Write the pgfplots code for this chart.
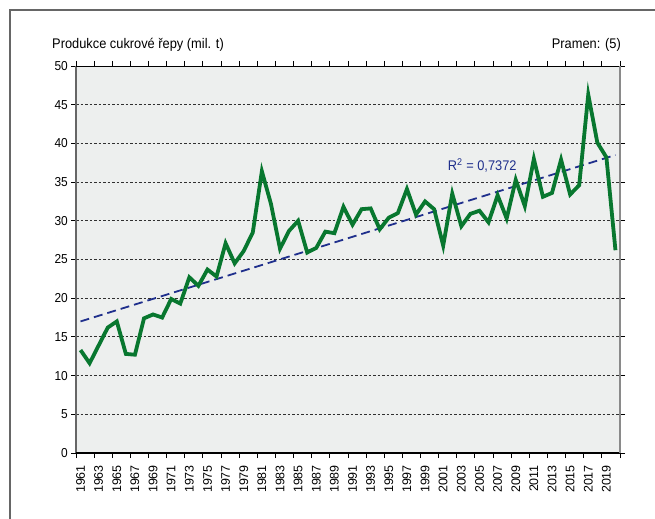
\documentclass[border=0pt]{standalone}
\usepackage{fontspec}
\setmainfont{Liberation Sans}[FakeStretch=0.92]
\newfontfamily\xlabfont{Liberation Sans}
\usepackage{pgfplots}
\pgfplotsset{compat=1.18}
\definecolor{PlotBg}{HTML}{EDEFEE}
\definecolor{Beet}{HTML}{08772F}
\definecolor{Trend}{HTML}{1F2F8C}
\definecolor{FrameC}{HTML}{666666}
\definecolor{RightC}{HTML}{8A8A8A}
\definecolor{GridC}{HTML}{303030}

\pgfplotstableread{
year val
1961 13.3
1962 11.6
1963 13.9
1964 16.2
1965 17.0
1966 12.8
1967 12.7
1968 17.4
1969 17.9
1970 17.5
1971 19.9
1972 19.3
1973 22.7
1974 21.6
1975 23.7
1976 22.8
1977 27.1
1978 24.5
1979 26.1
1980 28.5
1981 36.4
1982 32.2
1983 26.4
1984 28.7
1985 30.0
1986 25.9
1987 26.5
1988 28.6
1989 28.4
1990 31.8
1991 29.5
1992 31.5
1993 31.6
1994 28.9
1995 30.4
1996 31.0
1997 34.1
1998 30.8
1999 32.5
2000 31.5
2001 26.8
2002 33.5
2003 29.3
2004 30.9
2005 31.3
2006 29.8
2007 33.3
2008 30.3
2009 35.3
2010 31.9
2011 38.0
2012 33.1
2013 33.6
2014 37.9
2015 33.4
2016 34.6
2017 46.3
2018 40.1
2019 38.2
2020 26.2
}\beet

\begin{document}
\begin{tikzpicture}
  \begin{axis}[
      at={(76bp,66bp)}, anchor=south west,
      scale only axis,
      width=544bp, height=387bp,
      xmin=1960.5, xmax=2020.5,
      ymin=0, ymax=50,
      axis background/.style={fill=PlotBg},
      axis line style={draw=none},
      xtick={1960.5,1962.5,...,2020.5},
      xticklabels={},
      extra x ticks={1961,1963,...,2019},
      extra x tick style={major tick length=0pt, xmajorgrids=false},
      ytick={0,5,...,50},
      tick align=outside,
      major tick length=5bp,
      tick style={draw=black, line width=0.9bp},
      ymajorgrids=true,
      major grid style={draw=GridC, line width=0.8bp, dash pattern=on 2.5bp off 2bp},
      /pgf/number format/1000 sep={},
      /pgf/number format/assume math mode=true,
      yticklabel style={font=\fontsize{13}{15}\selectfont, inner sep=0pt, xshift=-3bp},
      xticklabel style={font=\xlabfont\fontsize{12.5}{14}\selectfont, yshift=-12bp, rotate=90, anchor=east, inner sep=0pt},
      clip=false]
    \addplot[Trend, line width=1.8bp, dash pattern=on 9bp off 5bp]
      coordinates {(1961,17.0)(2020,38.5)};
    \addplot[Beet, line width=3.8bp, line join=miter] table[x=year, y=val] {\beet};
    \draw[FrameC, line width=1.4bp] (rel axis cs:0,0) -- (rel axis cs:0,1);
    \draw[black, line width=1.4bp] (rel axis cs:0,0) -- (rel axis cs:1,0);
    \draw[black, line width=0.9bp] (rel axis cs:0,1) -- (rel axis cs:1,1);
    \draw[RightC, line width=2bp] (rel axis cs:1,0) -- (rel axis cs:1,1);
    \node[anchor=west, inner sep=0pt, text=Trend, font=\fontsize{14}{16}\selectfont]
      at (axis cs:2001.5,37.1) {R\textsuperscript{2} = 0,7372};
  \end{axis}
  \draw[FrameC, line width=1.3bp] (10bp,0bp) -- (10bp,509bp) -- (655bp,509bp);
  \node[anchor=west, inner sep=0pt, font=\fontsize{14}{16}\selectfont]
    at (52bp,474bp) {Produkce cukrové řepy (mil. t)};
  \node[anchor=east, inner sep=0pt, font=\fontsize{14}{16}\selectfont]
    at (621bp,474bp) {Pramen: (5)};
  \pgfresetboundingbox
  \useasboundingbox (0bp,0bp) rectangle (655bp,519bp);
\end{tikzpicture}
\end{document}
